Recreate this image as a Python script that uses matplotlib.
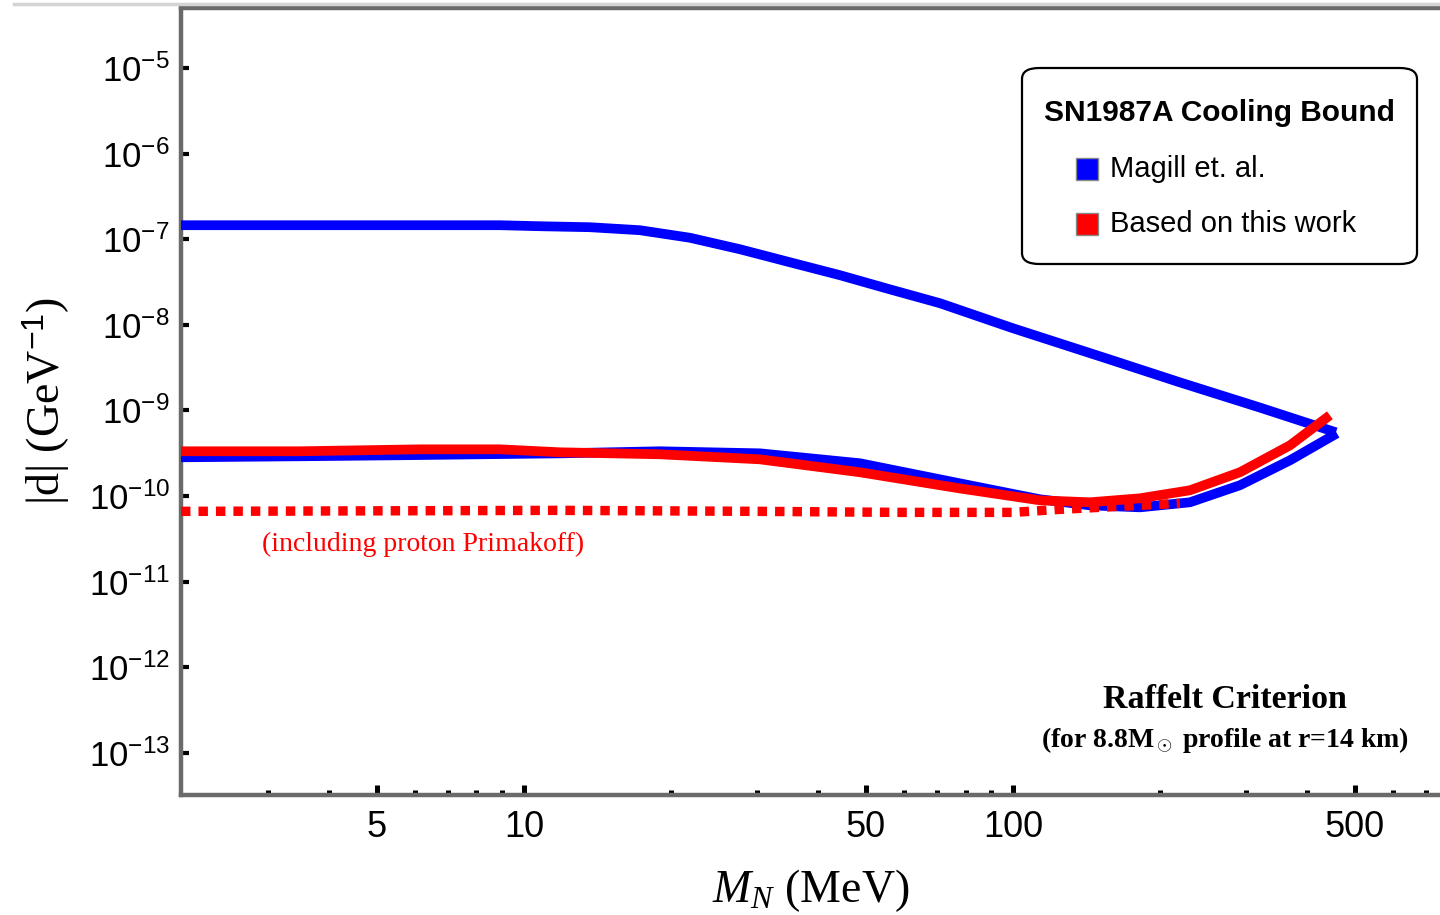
import numpy as np
import matplotlib
matplotlib.use("Agg")
import matplotlib.pyplot as plt
from matplotlib.patches import FancyBboxPatch, Rectangle
from matplotlib.lines import Line2D
from matplotlib.ticker import FixedLocator, NullLocator, LogFormatterMathtext

plt.rcParams['mathtext.fontset'] = 'custom'
plt.rcParams['mathtext.rm'] = 'Liberation Sans'
plt.rcParams['mathtext.it'] = 'Liberation Serif:italic'
plt.rcParams['mathtext.bf'] = 'Liberation Serif:bold'

# --- data (M_N in MeV, |d| in GeV^-1) ---
magill_upper_m = [1.99, 3.48, 5.58, 8.93, 10.78, 13.64, 17.27, 21.85, 27.65, 35.0, 44.3,
                  56.0, 70.9, 100, 155, 219.5, 318.6, 457.7]
magill_upper_d = [1.457e-7, 1.457e-7, 1.457e-7, 1.457e-7, 1.418e-7, 1.381e-7, 1.274e-7,
                  1.04e-7, 7.64e-8, 5.38e-8, 3.80e-8, 2.60e-8, 1.79e-8, 9.13e-9, 4.07e-9,
                  2.13e-9, 1.09e-9, 5.56e-10]

magill_lower_m = [1.99, 3.48, 5.58, 8.13, 11.85, 18.97, 30.38, 48.66, 77.9, 113.6, 143.7,
                  181.9, 230.1, 291.2, 368.6, 459.8]
magill_lower_d = [2.84e-10, 2.92e-10, 3.00e-10, 3.08e-10, 3.16e-10, 3.34e-10, 3.16e-10,
                  2.42e-10, 1.41e-10, 9.18e-11, 7.81e-11, 7.40e-11, 8.47e-11, 1.34e-10,
                  2.62e-10, 5.41e-10]

this_work_m = [1.99, 3.48, 6.13, 8.93, 11.85, 18.97, 30.38, 48.66, 77.9, 113.6, 143.7,
               181.9, 230.1, 291.2, 368.6, 444.8]
this_work_d = [3.34e-10, 3.34e-10, 3.52e-10, 3.52e-10, 3.25e-10, 3.08e-10, 2.69e-10,
               1.90e-10, 1.23e-10, 8.93e-11, 8.47e-11, 9.43e-11, 1.17e-10, 1.90e-10,
               3.92e-10, 8.79e-10]

primakoff_m = [1.99, 11.85, 30.38, 58.7, 100, 124.8, 150.6, 219.5]
primakoff_d = [6.64e-11, 6.82e-11, 6.64e-11, 6.46e-11, 6.46e-11, 7.01e-11, 7.40e-11, 8.24e-11]

x_major = [5, 10, 50, 100, 500]
x_major_labels = ['5', '10', '50', '100', '500']
x_minor = [3, 4, 6, 7, 8, 9, 20, 30, 40, 60, 70, 80, 90, 200, 300, 400, 600, 700]
y_major = [10.0 ** k for k in range(-13, -4)]

blue = '#0000ff'
red = '#ff0000'
spine_gray = '#6a6a6a'

fig = plt.figure(figsize=(14.4, 9.15), dpi=100)
ax = fig.add_axes([181 / 1440, 120 / 915, 1 - 181 / 1440, 787 / 915])
ax.set_xscale('log')
ax.set_yscale('log')
ax.set_xlim(1.99, 747)
ax.set_ylim(10 ** -13.49, 10 ** -4.30)

ax.plot(magill_upper_m, magill_upper_d, color=blue, lw=7, solid_capstyle='butt',
        solid_joinstyle='round', zorder=3)
ax.plot(magill_lower_m, magill_lower_d, color=blue, lw=7, solid_capstyle='butt',
        solid_joinstyle='round', zorder=3)
ax.plot(primakoff_m, primakoff_d, color=red, lw=6.8, linestyle=(0, (1, 0.85)),
        dash_capstyle='butt', zorder=4)
ax.plot(this_work_m, this_work_d, color=red, lw=7, solid_capstyle='butt',
        solid_joinstyle='round', zorder=5)

# spines and ticks
for side in ['left', 'bottom', 'top']:
    ax.spines[side].set_color(spine_gray)
    ax.spines[side].set_linewidth(3.2)
ax.spines['right'].set_visible(False)

ax.xaxis.set_major_locator(FixedLocator(x_major))
ax.xaxis.set_ticklabels(x_major_labels)
ax.xaxis.set_minor_locator(FixedLocator(x_minor))
ax.xaxis.set_minor_formatter(plt.NullFormatter())
ax.yaxis.set_major_locator(FixedLocator(y_major))
ax.yaxis.set_major_formatter(LogFormatterMathtext())
ax.yaxis.set_minor_locator(NullLocator())

ax.tick_params(axis='x', which='major', direction='in', length=7, width=3.6,
               color='black', pad=11, labelsize=26, top=False)
ax.tick_params(axis='x', which='minor', direction='in', length=3.6, width=3.6,
               color='black', top=False)
ax.tick_params(axis='y', which='major', direction='in', length=5.5, width=3,
               color='black', pad=8, labelsize=25, right=False)
for lab in ax.get_xticklabels() + ax.get_yticklabels():
    lab.set_fontfamily('Liberation Sans')

ax.set_xlabel('$M_N$ (MeV)', fontsize=33, fontfamily='Liberation Serif', labelpad=16)
ax.set_ylabel('|d| (GeV$^{-1}$)', fontsize=33, fontfamily='Liberation Serif', labelpad=12)

# annotations
fig.text(262 / 1440, 1 - 544 / 915, '(including proton Primakoff)', color=red,
         fontsize=20, fontfamily='Liberation Serif', ha='left', va='center')
fig.text(1225 / 1440, 1 - 700 / 915, 'Raffelt Criterion', fontsize=24.5,
         fontfamily='Liberation Serif', fontweight='bold', ha='center', va='center')
fig.text(1225 / 1440, 1 - 740 / 915, r'(for 8.8M$_\odot$ profile at r=14 km)', fontsize=20,
         fontfamily='Liberation Serif', fontweight='bold', ha='center', va='center')

# legend box drawn by hand
box = FancyBboxPatch((1022 / 1440, 1 - 264 / 915), 395 / 1440, 196 / 915,
                     boxstyle='round,pad=0,rounding_size=0.012', transform=fig.transFigure,
                     facecolor='white', edgecolor='black', lw=1.6, zorder=6)
fig.patches.append(box)
fig.text(1219 / 1440, 1 - 113 / 915, 'SN1987A Cooling Bound', fontsize=21.5,
         fontfamily='Liberation Sans', fontweight='bold', ha='center', va='center', zorder=7)
for yc, col, label in [(169, blue, 'Magill et. al.'), (224, red, 'Based on this work')]:
    sq = Rectangle((1076 / 1440, 1 - (yc + 11) / 915), 22 / 1440, 22 / 915,
                   transform=fig.transFigure, facecolor=col, edgecolor='#888888', lw=1, zorder=7)
    fig.patches.append(sq)
    fig.text(1110 / 1440, 1 - yc / 915, label, fontsize=21, fontfamily='Liberation Sans',
             ha='left', va='center', zorder=7)

# thin page rule at the very top
fig.add_artist(Line2D([14 / 1440, 1], [1 - 4 / 915, 1 - 4 / 915], color='#d4d4d4', lw=2.5,
                      transform=fig.transFigure))

fig.savefig('out.png', dpi=100)
